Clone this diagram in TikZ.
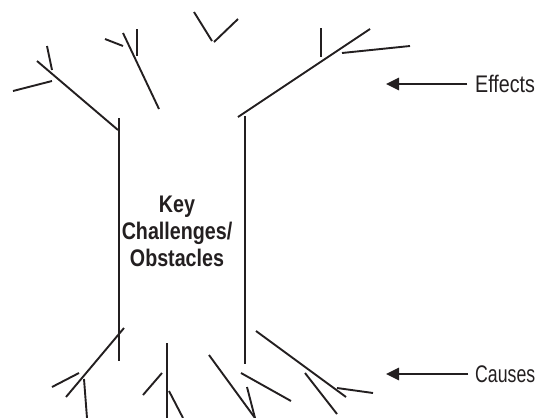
\documentclass[tikz,border=0pt]{standalone}
\usepackage{fontspec}
\setmainfont{Liberation Sans}[FakeStretch=0.82]
\usetikzlibrary{arrows.meta}
\definecolor{ink}{HTML}{231F20}

\tikzset{
  branch/.style={line width=1.9pt, draw=ink},
  pointer/.style={line width=2.6pt, draw=ink, fill=ink, -{Triangle[length=13pt,width=12pt]}},
  sidetext/.style={font=\fontsize{24}{27}\selectfont, text=ink, inner sep=0pt, anchor=west}
}

\begin{document}
\begin{tikzpicture}[x=1pt,y=-1pt]
\useasboundingbox (0,0) rectangle (539,418);

% Trunk
\draw[branch] (119,118) -- (119,361);
\draw[branch] (245,116) -- (245,364);

% Branches at the top
\foreach \xa/\ya/\xb/\yb in {118/130/37/61, 47/46/52/70, 13/91/52/81,
  159/109/123/33, 105/39/123/46, 137/29/137/56,
  194/12/212/41, 214/42/238/19,
  238/117/370/29, 321/28/321/57, 342/53/410/46} {
  \draw[branch] (\xa,\ya) -- (\xb,\yb);
}

% Roots at the bottom
\foreach \xa/\ya/\xb/\yb in {124/328/66/397, 52/387/79/373, 84/379/87/418,
  167/343/167/418, 143/395/162/373, 169/391/183/418,
  209/355/255/418, 247/387/255/418, 241/373/291/401,
  256/331/346/397, 337/388/373/393, 305/373/337/414} {
  \draw[branch] (\xa,\ya) -- (\xb,\yb);
}

% Trunk label
\node[font=\bfseries\fontsize{24}{27}\selectfont, text=ink, align=center] (obstacles) at (177,231)
  {Key\\Challenges/\\Obstacles};

% Side labels
\node[sidetext] (effects) at (475,84) {Effects};
\node[sidetext, xscale=0.9] (causes) at (475,374) {Causes};
\coordinate (effecttip) at (386,84);
\coordinate (causetip) at (386,374);
\draw[pointer] ([xshift=-8pt]effects.west) -- (effecttip);
\draw[pointer] ([xshift=-7pt]causes.west) -- (causetip);

\end{tikzpicture}
\end{document}
